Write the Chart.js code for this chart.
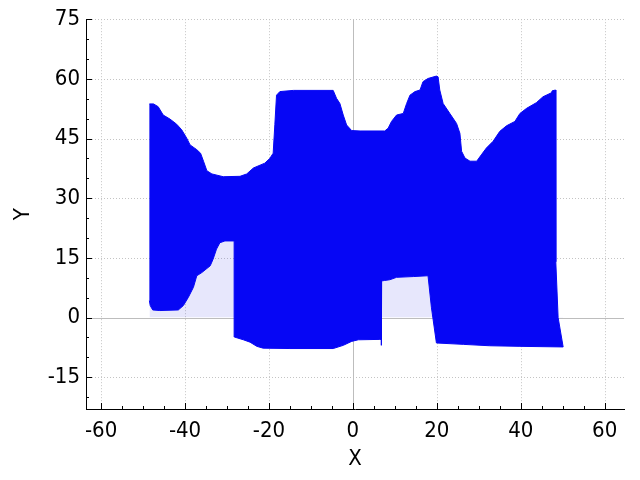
<!DOCTYPE html>
<html>
<head>
<meta charset="utf-8">
<script src="https://cdn.jsdelivr.net/npm/chart.js@4/dist/chart.umd.min.js"></script>
<style>
html,body{margin:0;padding:0;background:#fff;}
#wrap{width:640px;height:480px;}
</style>
</head>
<body>
<div id="wrap"><canvas id="c" width="640" height="480"></canvas></div>
<script>
// ---- data ----
const upperX = [-48.5,-47.5,-46.4,-45.2,-43.6,-42.0,-40.8,-39.6,-38.8,-37.2,-36.3,-35.6,-34.8,-33.6,-30.9,-26.9,-25.3,-23.7,-21.0,-19.8,-19.0,-18.6,-18.2,-17.4,-14.2,-4.7,-3.9,-3.1,-2.3,-1.5,-0.3,1.7,7.6,8.4,9.2,10.4,12.0,12.8,13.6,14.8,16.0,16.7,17.9,19.9,20.3,20.7,21.5,23.1,24.7,25.5,25.9,26.7,27.9,29.5,30.6,31.8,33.4,35.0,36.6,38.6,39.8,41.4,43.7,45.3,47.3,47.5,48.3,48.35,48.9];
const upperY = [53.7,53.7,53.0,50.9,49.9,48.6,47.2,45.1,43.4,42.2,41.3,39.3,36.9,36.1,35.4,35.5,36.1,37.6,38.8,40.0,41.3,48.5,55.9,56.8,57.1,57.1,55.1,53.8,50.9,48.4,47.0,46.9,46.9,47.6,49.3,50.9,51.3,53.8,55.9,56.8,57.2,59.3,60.1,60.7,60.5,57.2,53.8,51.3,48.8,46.3,41.8,40.1,39.3,39.3,40.9,42.6,44.3,46.8,48.2,49.3,51.3,52.6,54.0,55.5,56.5,57.0,57.2,14.0,0.0];
const lowerX = [-48.5,-48.3,-47.7,-46.0,-41.6,-40.4,-39.2,-38.0,-37.2,-36.0,-34.0,-33.3,-32.5,-31.7,-30.5,-28.3,-28.25,-26.1,-24.5,-22.9,-21.4,-15.0,-4.7,-2.3,-0.3,1.3,6.4,6.75,6.8,6.85,7.5,8.8,10.4,14.4,17.9,18.7,19.9,26.3,32.6,39.8,50.1];
const lowerY = [4.25,3.0,1.9,1.75,1.9,3.0,5.1,7.6,10.5,11.3,13.0,14.7,17.2,18.8,19.25,19.25,-4.9,-5.6,-6.2,-7.25,-7.7,-7.8,-7.8,-7.0,-6.0,-5.6,-5.5,-5.5,-7.0,9.2,9.3,9.5,10.1,10.3,10.5,2.6,-6.4,-6.75,-7.1,-7.25,-7.4];
const xTicks = [-60,-40,-20,0,20,40,60];
const yTicks = [-15,0,15,30,45,60,75];
const minorStep = 5;

const toPts = (xs, ys) => xs.map((x, i) => ({x: x, y: ys[i]}));
const upperPts = toPts(upperX, upperY);
const lowerPts = toPts(lowerX, lowerY);
const bandPts = upperPts.concat(lowerPts.slice().reverse());

const FONT = "'DejaVu Sans Condensed', 'DejaVu Sans', sans-serif";

const decor = {
  id: 'decor',
  beforeDatasetsDraw(chart) {
    const {ctx, chartArea: a, scales: {x, y}} = chart;
    ctx.save();
    ctx.strokeStyle = '#c4c4c4';
    ctx.lineWidth = 1;
    ctx.setLineDash([1, 2]);
    xTicks.forEach(v => {
      if (v === 0) return;
      const px = Math.round(x.getPixelForValue(v)) + 0.5;
      ctx.beginPath(); ctx.moveTo(px, a.top); ctx.lineTo(px, a.bottom); ctx.stroke();
    });
    yTicks.forEach(v => {
      if (v === 0) return;
      const py = Math.round(y.getPixelForValue(v)) + 0.5;
      ctx.beginPath(); ctx.moveTo(a.left, py); ctx.lineTo(a.right, py); ctx.stroke();
    });
    ctx.setLineDash([]);
    ctx.strokeStyle = '#bdbdbd';
    const zx = Math.round(x.getPixelForValue(0)) + 0.5;
    const zy = Math.round(y.getPixelForValue(0)) + 0.5;
    ctx.beginPath(); ctx.moveTo(zx, a.top); ctx.lineTo(zx, a.bottom); ctx.stroke();
    ctx.beginPath(); ctx.moveTo(a.left, zy); ctx.lineTo(a.right, zy); ctx.stroke();
    ctx.restore();
  },
  afterDraw(chart) {
    const {ctx, chartArea: a, scales: {x, y}} = chart;
    ctx.save();
    ctx.strokeStyle = '#000';
    ctx.lineWidth = 1;
    for (let v = Math.ceil(x.min / minorStep) * minorStep; v <= x.max; v += minorStep) {
      const major = xTicks.includes(v);
      const px = Math.round(x.getPixelForValue(v)) + 0.5;
      ctx.beginPath(); ctx.moveTo(px, a.bottom); ctx.lineTo(px, a.bottom - (major ? 6 : 3)); ctx.stroke();
    }
    for (let v = Math.ceil(y.min / minorStep) * minorStep; v <= y.max; v += minorStep) {
      const major = yTicks.includes(v);
      const py = Math.round(y.getPixelForValue(v)) + 0.5;
      ctx.beginPath(); ctx.moveTo(a.left, py); ctx.lineTo(a.left + (major ? 6 : 3), py); ctx.stroke();
    }
    ctx.restore();
  }
};

new Chart(document.getElementById('c'), {
  type: 'line',
  data: {
    datasets: [
      {
        data: bandPts,
        borderColor: 'rgb(6,6,245)',
        backgroundColor: 'rgb(6,6,245)',
        borderWidth: 1,
        pointRadius: 0,
        fill: 'shape',
        tension: 0
      },
      {
        data: lowerPts,
        borderWidth: 0,
        borderColor: 'rgba(0,0,0,0)',
        pointRadius: 0,
        fill: {target: 'origin', above: 'rgba(60,60,230,0.12)', below: 'rgba(0,0,0,0)'},
        tension: 0
      }
    ]
  },
  options: {
    responsive: false,
    animation: false,
    events: [],
    layout: {padding: {top: 16, right: 16, left: 0, bottom: 0}},
    plugins: {legend: {display: false}, tooltip: {enabled: false}},
    scales: {
      x: {
        type: 'linear',
        min: -63.6, max: 64.6,
        grid: {display: false, drawTicks: false},
        border: {display: true, color: '#000', width: 1},
        afterBuildTicks: s => { s.ticks = xTicks.map(v => ({value: v})); },
        afterFit: s => { s.height = 71; },
        ticks: {color: '#000', padding: 9, font: {family: FONT, size: 22}, maxRotation: 0, autoSkip: false},
        title: {display: true, text: 'X', color: '#000', font: {family: FONT, size: 22}, padding: {top: 0, bottom: 8}}
      },
      y: {
        type: 'linear',
        min: -23, max: 75,
        grid: {display: false, drawTicks: false},
        border: {display: true, color: '#000', width: 1},
        afterBuildTicks: s => { s.ticks = yTicks.map(v => ({value: v})); },
        afterFit: s => { s.width = 86; },
        ticks: {color: '#000', padding: 6, font: {family: FONT, size: 22}, autoSkip: false},
        title: {display: true, text: 'Y', color: '#000', font: {family: FONT, size: 22}, padding: {top: 10, bottom: 0}}
      }
    }
  },
  plugins: [decor]
});
</script>
</body>
</html>
